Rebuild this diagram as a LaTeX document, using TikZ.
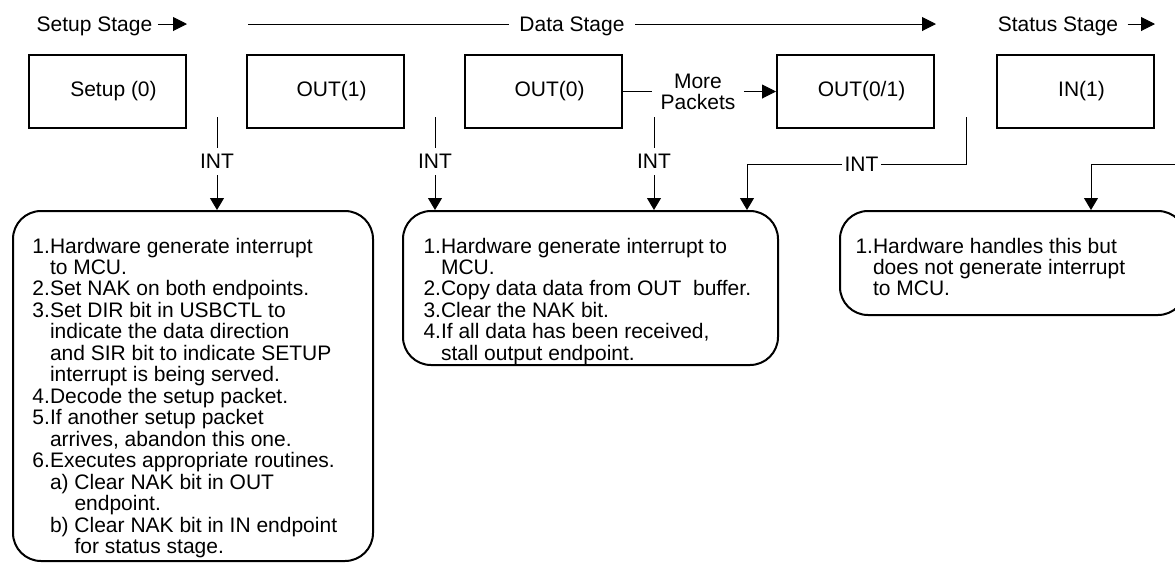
\documentclass[tikz,border=0pt]{standalone}
\usepackage{fontspec}
\setmainfont{Liberation Sans}
\usetikzlibrary{positioning, arrows.meta}
\tikzset{
    every node/.style={font=\fontsize{10.5}{10.5}\selectfont}, % one text size for the whole figure
    packet/.style={draw, line width=1pt, minimum width=78.5pt, minimum height=36.5pt,
        execute at begin node=\hspace*{6pt}}, % the packets on the top row
    handler/.style={draw, line width=1pt, rounded corners=14pt}, % what the firmware does
    steps/.style={anchor=base west, inner sep=0pt}, % numbered lists inside the handlers
    stagename/.style={text depth=0pt, inner xsep=2.5pt},
    int/.style={inner sep=3pt},
}
\tikzstyle{arrow} = [line width=0.5pt, -{Triangle[length=6pt, width=7pt]}]
\tikzstyle{stagearrow} = [line width=0.5pt, -{Triangle[length=7pt, width=7pt]}]

\begin{document}
\begin{tikzpicture}[x=0.5pt, y=-0.5pt, line width=0.5pt]
    \useasboundingbox (0,0) rectangle (1175,564);

    % stage names
    \node[stagename] (setupstage) at (94.5,24) {Setup Stage};
    \coordinate (setupend) at (187,24);
    \draw[stagearrow] (setupstage) -- (setupend);

    \coordinate (datastart) at (248,24);
    \node[stagename, inner xsep=5pt] (datastage) at (572,24) {Data Stage};
    \coordinate (dataend) at (936,24);
    \draw (datastart) -- (datastage);
    \draw[stagearrow] (datastage) -- (dataend);

    \node[stagename, inner xsep=4.5pt] (statusstage) at (1058,24) {Status Stage};
    \coordinate (statusend) at (1155,24);
    \draw[stagearrow] (statusstage) -- (statusend);

    % packets
    \node[packet] (setup) at (107.5,91.5) {Setup (0)};
    \node[packet, right=29.5pt of setup] (out1) {OUT(1)};
    \node[packet, right=29.5pt of out1] (out0) {OUT(0)};
    \node[packet, right=76.5pt of out0] (out01) {OUT(0/1)};
    \node[packet, right=30.5pt of out01] (in1) {IN(1)};

    \node[align=center, inner xsep=4pt] (more) at (698,91.5) {More\\Packets};
    \draw (out0) -- (more);
    \draw[stagearrow] (more) -- (out01);

    % handlers
    \node[handler, minimum width=180pt, minimum height=175pt] (procsetup) at (193,386) {};
    \node[handler, minimum width=187.5pt, minimum height=77pt] (procdata) at (590.5,288) {};
    \node[handler, minimum width=173pt, minimum height=52pt] (procstatus) at (1013,263) {};

    \node[steps] (setupsteps) at (32,253) {\begin{tabular}[t]{@{}l@{}}
        1.Hardware generate interrupt\\
        \hphantom{1.}to MCU.\\
        2.Set NAK on both endpoints.\\
        3.Set DIR bit in USBCTL to\\
        \hphantom{1.}indicate the data direction\\
        \hphantom{1.}and SIR bit to indicate SETUP\\
        \hphantom{1.}interrupt is being served.\\
        4.Decode the setup packet.\\
        5.If another setup packet\\
        \hphantom{1.}arrives, abandon this one.\\
        6.Executes appropriate routines.\\
        \hphantom{1.}a) Clear NAK bit in OUT\\
        \hphantom{1.a) }endpoint.\\
        \hphantom{1.}b) Clear NAK bit in IN endpoint\\
        \hphantom{1.b) }for status stage.
    \end{tabular}};

    \node[steps] (datasteps) at (423,253) {\begin{tabular}[t]{@{}l@{}}
        1.Hardware generate interrupt to\\
        \hphantom{1.}MCU.\\
        2.Copy data data from OUT~ buffer.\\
        3.Clear the NAK bit.\\
        4.If all data has been received,\\
        \hphantom{1.}stall output endpoint.
    \end{tabular}};

    \node[steps] (statussteps) at (855,253) {\begin{tabular}[t]{@{}l@{}}
        1.Hardware handles this but\\
        \hphantom{1.}does not generate interrupt\\
        \hphantom{1.}to MCU.
    \end{tabular}};

    % interrupts
    \coordinate (int1) at (217,117);
    \node[int] (int1lbl) at (217,161.5) {INT};
    \draw (int1) -- (int1lbl);
    \draw[arrow] (int1lbl) -- (procsetup.north -| int1);

    \coordinate (int2) at (435,117);
    \node[int] (int2lbl) at (435,161.5) {INT};
    \draw (int2) -- (int2lbl);
    \draw[arrow] (int2lbl) -- (procdata.north -| int2);

    \coordinate (int3) at (654,117);
    \node[int] (int3lbl) at (654,161.5) {INT};
    \draw (int3) -- (int3lbl);
    \draw[arrow] (int3lbl) -- (procdata.north -| int3);

    \coordinate (int4) at (966,117);
    \node[int, inner sep=1pt] (int4lbl) at (861.5,164) {INT};
    \coordinate (int4bend) at (747,164);
    \draw (int4) |- (int4lbl);
    \draw[arrow] (int4lbl) -- (int4bend) -- (procdata.north -| int4bend);

    \coordinate (int5) at (1190,164);
    \coordinate (int5bend) at (1091,164);
    \draw[arrow] (int5) -- (int5bend) -- (procstatus.north -| int5bend);
\end{tikzpicture}
\end{document}
